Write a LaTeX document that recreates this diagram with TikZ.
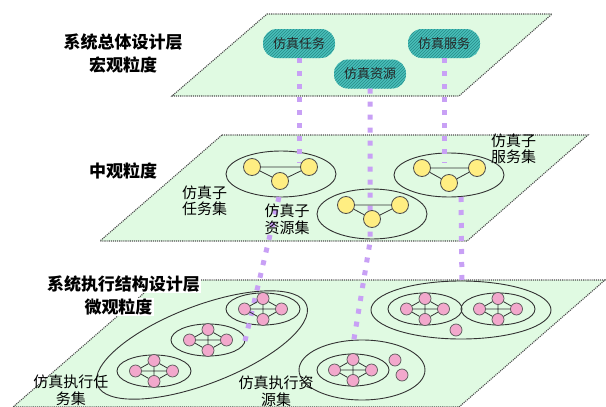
\documentclass[tikz,border=0pt]{standalone}
\usepackage{fontspec}
\newfontfamily\cjk{Noto Sans CJK SC}
\usetikzlibrary{patterns}
\definecolor{planeg}{RGB}{224,250,226}
\definecolor{lilac}{RGB}{200,160,245}
\definecolor{pillc}{RGB}{72,192,186}
\definecolor{pillh}{RGB}{40,138,136}
\definecolor{yel}{RGB}{255,238,130}
\definecolor{pinkc}{RGB}{242,168,204}
\tikzset{
  plane/.style={fill=planeg, draw=black!70, densely dotted, line width=1.1pt},
  grp/.style={draw=black!80, line width=0.9pt},
  pill/.style={rounded corners=14pt, minimum width=72pt, minimum height=29pt, inner sep=0pt,
    fill=pillc, postaction={pattern=north east lines, pattern color=pillh},
    font=\cjk\fontsize{13}{14}\selectfont, text=black!85},
  ynode/.style={circle, minimum size=17pt, inner sep=0pt, fill=yel, draw=black!70, line width=0.8pt},
  pnode/.style={circle, minimum size=12pt, inner sep=0pt, fill=pinkc, draw=black!65, line width=0.7pt},
  edge/.style={draw=black!80, line width=0.8pt},
  purp/.style={draw=lilac, line width=5pt, dash pattern=on 5pt off 8pt},
  title/.style={font=\cjk\bfseries\fontsize{17}{18}\selectfont, inner sep=1pt},
  lbl/.style={font=\cjk\fontsize{15}{16.5}\selectfont, inner sep=0pt, align=left},
  blbl/.style={font=\cjk\fontsize{15}{17}\selectfont, inner sep=0pt, align=center},
}
\newcommand\xell[2]{\draw[grp] (#1,#2) ellipse [x radius=37pt, y radius=16pt];}
\newcommand\xnodes[3]{%
  \node[pnode] (#1t) at (#2,#3-10.5) {};
  \node[pnode] (#1l) at (#2-18.5,#3) {};
  \node[pnode] (#1r) at (#2+18.5,#3) {};
  \node[pnode] (#1b) at (#2,#3+10.5) {};
  \draw[edge] (#1l) -- (#1r) (#1t) -- (#1b) (#1t) -- (#1l) (#1t) -- (#1r) (#1b) -- (#1l) (#1b) -- (#1r);
}
\begin{document}
\begin{tikzpicture}[x=1pt,y=-1pt]
\useasboundingbox (0,0) rectangle (606,407);
% planes
\path[plane] (267,14) -- (552,14) -- (459,96) -- (172,96) -- cycle;
\path[plane] (222,135) -- (588,135) -- (467,241) -- (100,241) -- cycle;
\path[plane] (159,280) -- (605,280) -- (459,407) -- (13,407) -- cycle;
% middle ellipses
\draw[grp] (281,174) ellipse [x radius=55pt, y radius=23pt];
\draw[grp] (372,214) ellipse [x radius=55pt, y radius=25pt];
\draw[grp] (449,175) ellipse [x radius=55pt, y radius=22pt];
% bottom ellipses
\draw[grp, rotate around={21:(202,345)}] (202,345) ellipse [x radius=112pt, y radius=39pt];
\xell{263}{309}
\xell{208}{340}
\xell{154}{371}
\draw[grp] (362,370) ellipse [x radius=63pt, y radius=30pt];
\draw[grp] (353,370) ellipse [x radius=36pt, y radius=16pt];
\draw[grp] (461,310) ellipse [x radius=90pt, y radius=29pt];
\xell{425}{309}
\xell{498}{309}
% pills
\node[pill] (pt) at (299,43.5) {仿真任务};
\node[pill] (pr) at (370,74) {仿真资源};
\node[pill] (ps) at (444,43.5) {仿真服务};
% purple connectors
\coordinate (t1) at (299,163);
\coordinate (t2) at (279,197);
\coordinate (t3) at (244,345);
\coordinate (r1) at (370,242);
\coordinate (r2) at (353,345);
\coordinate (s1) at (444,163);
\coordinate (s2) at (461,197);
\coordinate (s3) at (462,287);
\draw[purp] (pt.south) -- (t1);
\draw[purp] (t2) -- (t3);
\draw[purp] (pr.south) -- (r1) -- (r2);
\draw[purp] (ps.south) -- (s1);
\draw[purp] (s2) -- (s3);
% middle nodes
\node[ynode] (ta) at (252,167) {};
\node[ynode] (tb) at (309,167) {};
\node[ynode] (tc) at (280,181) {};
\node[ynode] (ra) at (346,205) {};
\node[ynode] (rb) at (400,205) {};
\node[ynode] (rc) at (372,219) {};
\node[ynode] (sa) at (422,168) {};
\node[ynode] (sb) at (477,168) {};
\node[ynode] (sc) at (449,183) {};
\draw[edge] (ta) -- (tb) (ta) -- (tc) (tb) -- (tc);
\draw[edge] (ra) -- (rb) (ra) -- (rc) (rb) -- (rc);
\draw[edge] (sa) -- (sb) (sa) -- (sc) (sb) -- (sc);
% bottom nodes
\xnodes{ga}{263}{309}
\xnodes{gb}{208}{340}
\xnodes{gc}{154}{371}
\xnodes{gr}{353}{370}
\xnodes{gs}{425}{309}
\xnodes{gu}{498}{309}
\node[pnode] (e1) at (395,360) {};
\node[pnode] (e2) at (402,375) {};
\node[pnode] (e3) at (456,330) {};
% titles
\node[title] (h1) at (123,42.5) {系统总体设计层};
\node[title] (h2) at (123,65) {宏观粒度};
\node[title] (h3) at (123,170.5) {中观粒度};
\node[title, fill=white] (h4) at (123.5,284) {系统执行结构设计层};
\node[title, fill=white] (h5) at (118.5,307) {微观粒度};
% labels
\node[lbl] (l1) at (204.5,201) {仿真子\\任务集};
\node[lbl] (l2) at (287,219.5) {仿真子\\资源集};
\node[lbl] (l3) at (513.5,149) {仿真子\\服务集};
\node[blbl] (l4) at (71,390) {仿真执行任\\务集};
\node[blbl] (l5) at (276,391) {仿真执行资\\源集};
\end{tikzpicture}
\end{document}
